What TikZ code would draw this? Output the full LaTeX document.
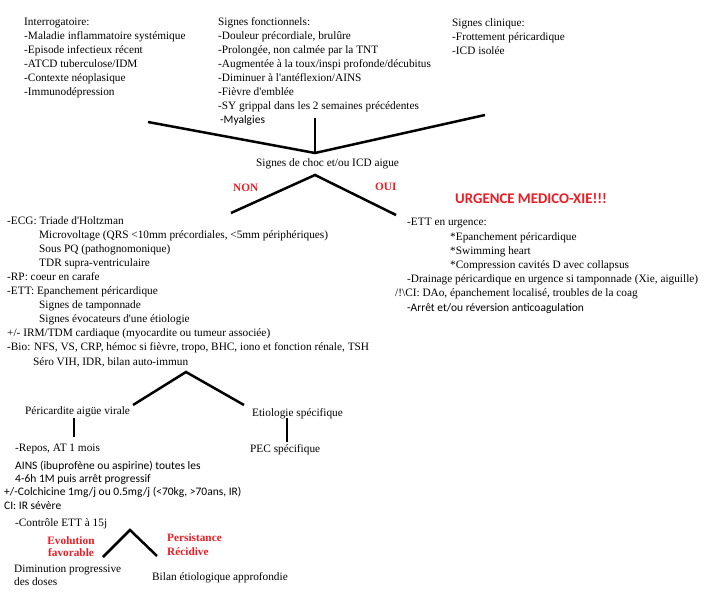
\documentclass[tikz,border=0pt]{standalone}
\usepackage{fontspec}
\setmainfont{Liberation Serif}
\newfontfamily\calibri{Carlito}
\definecolor{rougeurg}{RGB}{237,28,36}

\begin{document}
\begin{tikzpicture}[x=1pt,y=-1pt,
        bloc/.style={anchor=base west, inner sep=0pt, align=left, font=\fontsize{11.3}{14}\selectfont},
        blocsans/.style={bloc, font=\calibri\fontsize{11.5}{13.3}\selectfont},
        rouge/.style={anchor=base west, inner sep=0pt, align=left, text=rougeurg, font=\bfseries\fontsize{11.3}{12.5}\selectfont},
        trait/.style={black, line width=2.5pt}]
        \useasboundingbox (0,0) rectangle (722,596);

        \node[bloc] (interro) at (24,96) {Interrogatoire:\\-Maladie inflammatoire systémique\\-Episode infectieux récent\\-ATCD tuberculose/IDM\\-Contexte néoplasique\\-Immunodépression};
        \node[bloc] (fonct) at (218,124) {Signes fonctionnels:\\-Douleur précordiale, brulûre\\-Prolongée, non calmée par la TNT\\-Augmentée à la toux/inspi profonde/décubitus\\-Diminuer à l\textquotesingle antéflexion/AINS\\-Fièvre d\textquotesingle emblée\\-SY grippal dans les 2 semaines précédentes\\\hspace*{2pt}{\calibri\fontsize{11.5}{14}\selectfont -Myalgies}};
        \node[bloc] (clin) at (452,55) {Signes clinique:\\-Frottement péricardique\\-ICD isolée};

        \node[bloc] (choc) at (256,167) {Signes de choc et/ou ICD aigue};
        \node[rouge] (non) at (233,191) {NON};
        \node[rouge] (oui) at (375,190) {OUI};
        \node[rouge, font=\calibri\bfseries\fontsize{14.8}{15}\selectfont] (urgence) at (455,203) {URGENCE MEDICO-XIE!!!};

        \node[bloc, font=\fontsize{11.3}{14.1}\selectfont] (ecg) at (7,365) {-ECG: Triade d\textquotesingle Holtzman\\
            \hspace*{32pt}Microvoltage (QRS <10mm précordiales, <5mm périphériques)\\
            \hspace*{32pt}Sous PQ (pathognomonique)\\
            \hspace*{32pt}TDR supra-ventriculaire\\
            -RP: coeur en carafe\\
            -ETT: Epanchement péricardique\\
            \hspace*{32pt}Signes de tamponnade\\
            \hspace*{32pt}Signes évocateurs d\textquotesingle une étiologie\\
            +/- IRM/TDM cardiaque (myocardite ou tumeur associée)\\
            -Bio: NFS, VS, CRP, hémoc si fièvre, tropo, BHC, iono et fonction rénale, TSH\\
            \hspace*{26pt}Séro VIH, IDR, bilan auto-immun};
        \node[bloc, font=\fontsize{11.3}{14.2}\selectfont] (ett) at (395,311) {\hspace*{12pt}-ETT en urgence:\\
            \hspace*{55pt}*Epanchement péricardique\\
            \hspace*{55pt}*Swimming heart\\
            \hspace*{55pt}*Compression cavités D avec collapsus\\
            \hspace*{12pt}-Drainage péricardique en urgence si tamponnade (Xie, aiguille)\\
            /!\textbackslash CI: DAo, épanchement localisé, troubles de la coag\\
            \hspace*{12pt}{\calibri\fontsize{11.5}{14.2}\selectfont -Arrêt et/ou réversion anticoagulation}};

        \node[bloc] (virale) at (25,414) {Péricardite aigüe virale};
        \node[bloc] (etio) at (252,416) {Etiologie spécifique};
        \node[bloc] (repos) at (15,451) {-Repos, AT 1 mois};
        \node[bloc] (pec) at (250,452) {PEC spécifique};
        \node[blocsans] (ains) at (4,509) {\hspace*{11pt}AINS (ibuprofène ou aspirine) toutes les\\\hspace*{11pt}4-6h 1M puis arrêt progressif\\+/-Colchicine 1mg/j ou 0.5mg/j (<70kg, >70ans, IR)\\CI: IR sévère};
        \node[bloc] (controle) at (15,526) {-Contrôle ETT à 15j};
        \node[rouge, align=center, anchor=base] (favorable) at (71,556.5) {Evolution\\favorable};
        \node[rouge, font=\bfseries\fontsize{11.3}{14}\selectfont] (recidive) at (167,555) {Persistance\\Récidive};
        \node[bloc, font=\fontsize{11.3}{13}\selectfont] (diminution) at (14,585) {Diminution progressive\\des doses};
        \node[bloc] (bilan) at (152,580) {Bilan étiologique approfondie};

        \coordinate (interrofin) at (148,122);
        \coordinate (fonctfin) at (315,118);
        \coordinate (clinfin) at (485,115);
        \coordinate (chochaut) at (315,153);
        \coordinate (chocbas) at (315,175);
        \coordinate (nonfin) at (231,213);
        \coordinate (ouifin) at (396,215);
        \coordinate (biohaut) at (186,372);
        \coordinate (viralefin) at (133,405);
        \coordinate (etiofin) at (244,405);
        \coordinate (viralebas) at (74,418);
        \coordinate (reposhaut) at (74,437);
        \coordinate (etiobas) at (287,418);
        \coordinate (pechaut) at (287,442);
        \coordinate (controlebas) at (130,530);
        \coordinate (favorablefin) at (103,557);
        \coordinate (recidivefin) at (157,556);

        \draw[trait] (interrofin) -- (chochaut) -- (clinfin);
        \draw[trait] (fonctfin) -- (chochaut);
        \draw[trait] (nonfin) -- (chocbas) -- (ouifin);
        \draw[trait] (viralefin) -- (biohaut) -- (etiofin);
        \draw[trait] (viralebas) -- (reposhaut);
        \draw[trait] (etiobas) -- (pechaut);
        \draw[trait] (favorablefin) -- (controlebas) -- (recidivefin);
    \end{tikzpicture}
\end{document}
